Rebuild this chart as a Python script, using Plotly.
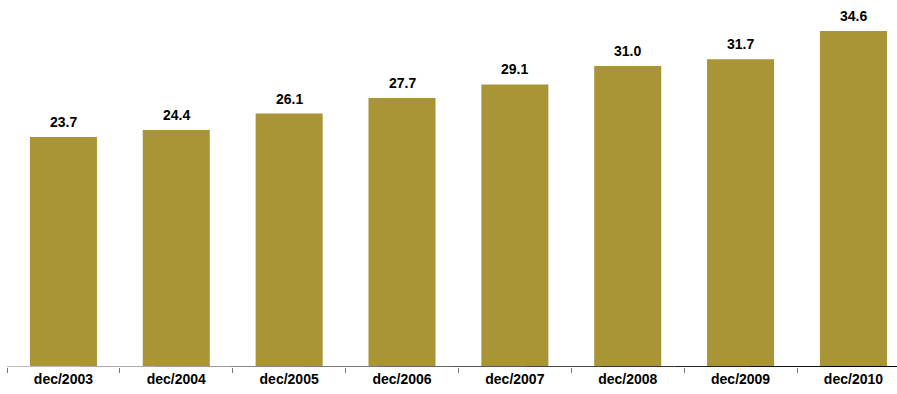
import plotly.graph_objects as go

# Year-end values
categories = ["dec/2003", "dec/2004", "dec/2005", "dec/2006",
              "dec/2007", "dec/2008", "dec/2009", "dec/2010"]
values = [23.7, 24.4, 26.1, 27.7, 29.1, 31.0, 31.7, 34.6]
value_labels = [f"{v:.1f}" for v in values]

BAR_COLOR = "#A99535"
FONT = "Liberation Sans, Arial, sans-serif"

fig = go.Figure(
    go.Bar(
        x=categories,
        y=values,
        marker=dict(color=BAR_COLOR, line=dict(width=0)),
        hoverinfo="skip",
    )
)

# Value labels above each bar
for cat, val, lab in zip(categories, values, value_labels):
    fig.add_annotation(
        x=cat, y=val, text=f"<b>{lab}</b>",
        showarrow=False, yanchor="bottom", yshift=5,
        font=dict(family=FONT, size=14, color="#000000"),
    )

# Baseline drawn as a light-to-dark sequence of segments
n_seg = 12
for i in range(n_seg):
    t = i / (n_seg - 1)
    g = int(190 * (1 - t))
    fig.add_shape(
        type="line", xref="paper", yref="y",
        x0=i / n_seg, x1=(i + 1) / n_seg, y0=0, y1=0,
        line=dict(color=f"rgb({g},{g},{g})", width=2),
        layer="above",
    )

fig.update_layout(
    width=897,
    height=394,
    margin=dict(l=7, r=0, t=0, b=27),
    paper_bgcolor="white",
    plot_bgcolor="white",
    bargap=0.406,
    showlegend=False,
    xaxis=dict(
        type="category",
        range=[-0.5, 7.386],
        tickson="boundaries",
        ticks="outside",
        ticklen=5,
        tickwidth=1,
        tickcolor="#777777",
        showline=False,
        showgrid=False,
        zeroline=False,
        tickfont=dict(family=FONT, size=14, color="#000000"),
        ticklabelstandoff=2,
        tickvals=categories,
        ticktext=[f"<b>{c}</b>" for c in categories],
    ),
    yaxis=dict(
        range=[0, 37.8],
        visible=False,
        showgrid=False,
        zeroline=False,
    ),
)

fig.write_html("out.html")
